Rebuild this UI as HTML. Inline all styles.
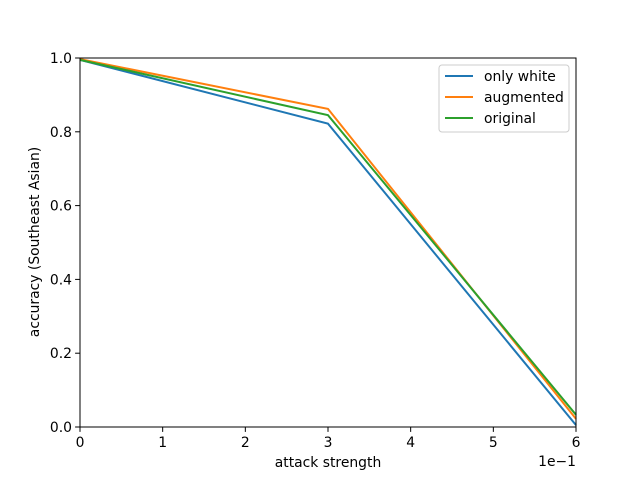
<!DOCTYPE html>
<html><head><meta charset="utf-8"><style>body{margin:0;background:#fff}svg{display:block;font-family:"DejaVu Sans","Liberation Sans",sans-serif}</style></head>
<body>
<svg id="chart" width="640" height="480"></svg>
<script>
const xValues=[0,3,6];
const xTicks=[0,1,2,3,4,5,6];
const yTicks=[0.0,0.2,0.4,0.6,0.8,1.0];
const seriesNames=["only white","augmented","original"];
const onlyWhite=[0.995,0.822,0.005];
const augmented=[0.997,0.862,0.022];
const original=[0.995,0.845,0.033];
const colors=["#1f77b4","#ff7f0e","#2ca02c"];
const X0=80,X1=576,Y0=427,Y1=58;
const FS=13.9;
const sx=v=>X0+(v-0)/6*(X1-X0);
const sy=v=>Y0-v*(Y0-Y1);
const svg=document.getElementById('chart');
const NS='http://www.w3.org/2000/svg';
function mk(t,a,p){const e=document.createElementNS(NS,t);for(const k in a)e.setAttribute(k,a[k]);(p||svg).appendChild(e);return e;}
[onlyWhite,augmented,original].forEach((s,i)=>{
 const pl=mk('polyline',{points:s.map((v,j)=>sx(xValues[j])+','+sy(v)).join(' '),fill:'none',stroke:colors[i],'stroke-width':2});
 
 
});
const fr=mk('rect',{x:X0,y:Y1,width:X1-X0,height:Y0-Y1,fill:'none',stroke:'#000','stroke-width':1});


xTicks.forEach(t=>{
 const x=sx(t);
 mk('line',{x1:x,x2:x,y1:Y0,y2:Y0+4.9,stroke:'#000','stroke-width':1});
 const tx=mk('text',{x:x,y:Y0+20,'text-anchor':'middle','font-size':FS});tx.textContent=t;
 
 
});
yTicks.forEach(t=>{
 const y=sy(t);
 mk('line',{x1:X0-4.9,x2:X0,y1:y,y2:y,stroke:'#000','stroke-width':1});
 const tx=mk('text',{x:X0-8,y:y+5,'text-anchor':'end','font-size':FS});tx.textContent=t.toFixed(1);
 
 
});
let e=mk('text',{x:576,y:466,'text-anchor':'end','font-size':FS});e.textContent='1e\u22121';


e=mk('text',{x:328,y:467,'text-anchor':'middle','font-size':FS});e.textContent='attack strength';


e=mk('text',{x:0,y:0,'text-anchor':'middle','font-size':FS,transform:'translate(39,242) rotate(-90)'});e.textContent='accuracy (Southeast Asian)';


const lg=mk('g',{});


mk('rect',{x:439,y:65,width:130,height:67,rx:3,fill:'#fff',stroke:'#ccc','stroke-width':1},lg);
seriesNames.forEach((n,i)=>{
 const y=76+i*21;
 mk('line',{x1:445,x2:473,y1:y,y2:y,stroke:colors[i],'stroke-width':2},lg);
 const t=mk('text',{x:484,y:y+5,'font-size':FS},lg);t.textContent=n;
 
 
});
</script>
</body></html>
